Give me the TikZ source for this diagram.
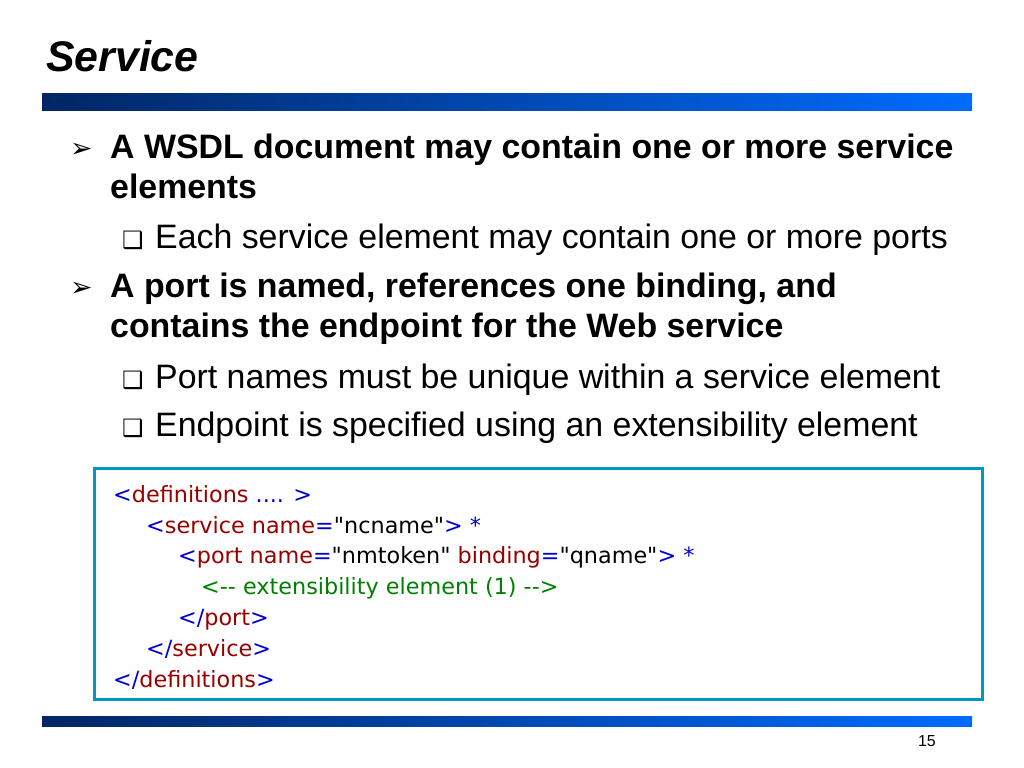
\documentclass[tikz,border=0pt]{standalone}
\usepackage{fontspec}
\setmainfont{Liberation Sans}
\newfontfamily\symfont{DejaVu Sans}
\newfontfamily\codefont{DejaVu Sans}
\usetikzlibrary{positioning}

\definecolor{barleft}{RGB}{0,38,100}
\definecolor{barright}{RGB}{0,108,255}
\definecolor{boxcol}{RGB}{0,150,200}
\definecolor{tagblue}{RGB}{0,0,210}
\definecolor{tagred}{RGB}{150,0,0}
\definecolor{cmtgreen}{RGB}{0,128,0}

\newcommand{\tb}[1]{\textcolor{tagblue}{#1}}
\newcommand{\tr}[1]{\textcolor{tagred}{#1}}

\tikzset{
  lvlone/.style={anchor=base west,inner sep=0pt,font=\fontsize{34}{40}\selectfont\bfseries},
  lvltwo/.style={anchor=base west,inner sep=0pt,font=\fontsize{34}{40}\selectfont},
  arrowbul/.style={anchor=base west,inner sep=0pt,font=\fontsize{27}{32}\selectfont\symfont},
  boxbul/.style={anchor=base west,inner sep=0pt,font=\fontsize{24}{28}\selectfont\symfont},
  codeline/.style={anchor=base west,inner sep=0pt,font=\fontsize{22.4}{26}\selectfont\codefont},
  bar/.style={left color=barleft,right color=barright}
}

\begin{document}
\begin{tikzpicture}[x=1bp,y=-1bp]
  \useasboundingbox (0,0) rectangle (1024,768);

  % title and bars
  \node[anchor=base west,inner sep=0pt,font=\fontsize{43}{48}\selectfont\bfseries\itshape] (title) at (46,72) {Service};
  \shade[bar] (42,93) rectangle (972,110);
  \shade[bar] (42,716) rectangle (972,726);
  \node[anchor=base east,inner sep=0pt,font=\fontsize{16}{18}\selectfont] (page) at (936,746) {15};

  % bullets
  \node[arrowbul] (a1) at (70,157) {➢};
  \node[lvlone] (t1) at (110,158) {A WSDL document may contain one or more service};
  \node[lvlone] (t2) at (110,198) {elements};
  \node[boxbul] (s1) at (122,248) {❑};
  \node[lvltwo] (t3) at (155,248) {Each service element may contain one or more ports};
  \node[arrowbul] (a2) at (70,296) {➢};
  \node[lvlone] (t4) at (110,297) {A port is named, references one binding, and};
  \node[lvlone] (t5) at (110,337) {contains the endpoint for the Web service};
  \node[boxbul] (s2) at (122,388) {❑};
  \node[lvltwo] (t6) at (155,388) {Port names must be unique within a service element};
  \node[boxbul] (s3) at (122,436) {❑};
  \node[lvltwo] (t7) at (155,436) {Endpoint is specified using an extensibility element};

  % code box
  \draw[boxcol,line width=3bp] (94,468) rectangle (982,699);
  \node[codeline] (c1) at (113,502) {\tb{<}\tr{definitions} \tb{.... >}};
  \node[codeline] (c2) at (146,533) {\tb{<}\tr{service name}\tb{=}"ncname"\tb{>} \tb{*}};
  \node[codeline] (c3) at (178,563) {\tb{<}\tr{port name}\tb{=}"nmtoken" \tr{binding}\tb{=}"qname"\tb{>} \tb{*}};
  \node[codeline,text=cmtgreen] (c4) at (201,594) {<-{}- extensibility element (1) -{}->};
  \node[codeline] (c5) at (178,625) {\tb{</}\tr{port}\tb{>}};
  \node[codeline] (c6) at (146,656) {\tb{</}\tr{service}\tb{>}};
  \node[codeline] (c7) at (113,687) {\tb{</}\tr{definitions}\tb{>}};
\end{tikzpicture}
\end{document}
